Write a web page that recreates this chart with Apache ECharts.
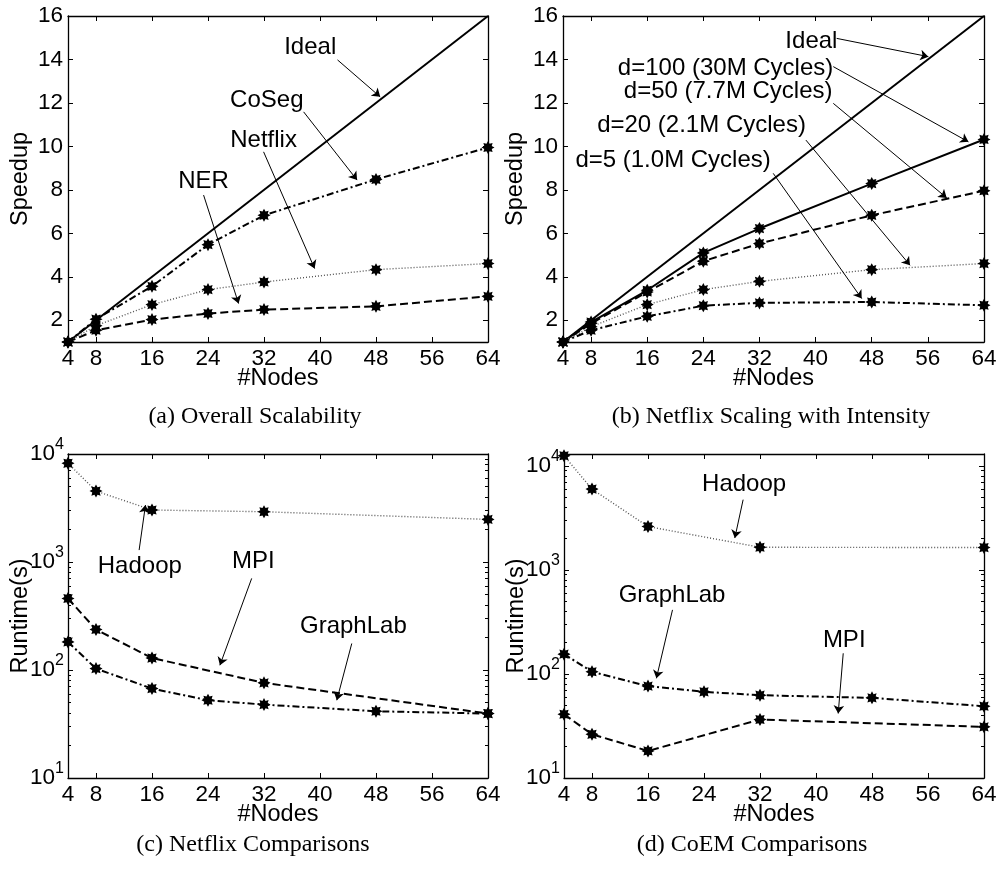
<!DOCTYPE html>
<html><head><meta charset="utf-8">
<script src="https://cdn.jsdelivr.net/npm/echarts@6/dist/echarts.min.js"></script>
<style>html,body{margin:0;padding:0;background:#fff}#c{width:1000px;height:869px}</style>
</head><body><div id="c"></div>
<script>
// ---------- data ----------
const nodes = [4, 8, 16, 24, 32, 48, 64];
const nodesSparse = [4, 8, 16, 32, 64];
const idealX = [4, 64];
const idealY = [1, 16];
const xTicks = [4, 8, 16, 24, 32, 40, 48, 56, 64];
const speedupTicks = [1, 2, 4, 6, 8, 10, 12, 14, 16];
const logMinorTicks = [20,30,40,50,60,70,80,90,200,300,400,500,600,700,800,900,2000,3000,4000,5000,6000,7000,8000,9000];

// (a) Overall Scalability
const aCoSeg   = [1, 2.05, 3.56, 5.48, 6.83, 8.48, 9.95];
const aNetflix = [1, 1.75, 2.72, 3.41, 3.76, 4.33, 4.61];
const aNER     = [1, 1.54, 2.03, 2.31, 2.49, 2.64, 3.10];
// (b) Netflix Scaling with Intensity
const bD100 = [1, 1.92, 3.38, 5.10, 6.22, 8.29, 10.32];
const bD50  = [1, 1.85, 3.30, 4.72, 5.53, 6.83, 7.96];
const bD20  = [1, 1.70, 2.72, 3.41, 3.79, 4.33, 4.61];
const bD5   = [1, 1.54, 2.18, 2.67, 2.80, 2.84, 2.69];
// (c) Netflix Comparisons (runtime s)
const cHadoop   = [8200, 4540, 3030, 2920, 2480];      // nodesSparse
const cMPI      = [459, 237, 129, 76, 39.5];          // nodesSparse
const cGraphLab = [182, 103, 67.3, 52.5, 47.8, 41.5, 39.5]; // nodes
// (d) CoEM Comparisons (runtime s)
const dHadoop   = [12500, 5980, 2610, 1650, 1640];    // nodesSparse
const dGraphLab = [155, 105, 76.4, 67.3, 62.5, 58.9, 49]; // nodes
const dMPI      = [41, 26.3, 18.2, 36.5, 31];          // nodesSparse

// annotations: [text, x, y] and arrows [x1, y1, x2, y2] in data units
const aNotes  = [['Ideal', 38.6, 14.57], ['CoSeg', 32.4, 12.13], ['Netflix', 31.94, 10.29], ['NER', 23.37, 8.37]];
const aArrows = [[42.5, 13.98, 48.6, 12.28], [37.66, 11.59, 45.3, 8.45], [31.94, 9.75, 39.23, 4.38], [23.37, 7.76, 28.37, 2.77]];
const bNotes  = [['Ideal', 39.4, 14.82], ['d=100 (30M Cycles)', 27.17, 13.59], ['d=50 (7.7M Cycles)', 27.54, 12.52],
                 ['d=20 (2.1M Cycles)', 23.74, 10.98], ['d=5 (1.0M Cycles)', 19.69, 9.37]];
const bArrows = [[43.0, 14.97, 56.07, 14.13], [42.52, 13.67, 61.78, 10.21], [42.52, 11.98, 58.69, 7.63],
                 [38.62, 10.29, 53.46, 4.53], [33.96, 8.76, 46.57, 3.0]];
const cNotes  = [['Hadoop', 14.26, 904], ['MPI', 30.47, 1005], ['GraphLab', 44.77, 251]];
const cArrows = [[14.16, 1289, 15.07, 3365], [30.24, 705, 25.7, 110.6], [44.54, 176, 42.4, 52.5]];
const dNotes  = [['Hadoop', 29.73, 6607], ['GraphLab', 19.44, 575], ['MPI', 44.03, 212]];
const dArrows = [[29.59, 4732, 28.4, 2024], [19.5, 413, 17.2, 90.8], [43.89, 158, 43.17, 41.7]];

// ---------- styles ----------
const F = 'Liberation Sans';
const star = (() => {
  const pts = [];
  for (let k = 0; k < 16; k++) {
    const a = k * Math.PI / 8, r = k % 2 === 0 ? 10 : 6.2;
    pts.push((10 + r * Math.sin(a)).toFixed(2) + ',' + (10 - r * Math.cos(a)).toFixed(2));
  }
  return 'path://M' + pts.join('L') + 'Z';
})();
const SOLID = {type: 'solid', width: 2, color: '#000'};
const DASH = {type: [8, 4], width: 2, color: '#000'};
const DASHDOT = {type: [7, 3, 2, 3], width: 2, color: '#000'};
const DOT = {type: [1, 2], width: 1.4, color: '#555'};

const grids = [
  {left: 68, top: 16, width: 420, height: 326},
  {left: 563, top: 16, width: 421, height: 326},
  {left: 68, top: 454, width: 420, height: 324},
  {left: 564, top: 454, width: 420, height: 324}
].map(g => Object.assign({outerBoundsMode: 'none', containLabel: false}, g));

const axisLine = {show: true, lineStyle: {color: '#000', width: 1.3}};
const tickStyle = {color: '#000', width: 1};
const tickTxt = {fontSize: 22.5, fontFamily: F, color: '#000'};
const nameTxt = {fontSize: 23.5, fontFamily: F, color: '#000'};
const noteTxt = {fontSize: 24, fontFamily: F, color: '#000', textBorderWidth: 0, textShadowBlur: 0, opacity: 1};

const xAxis = [], yAxis = [];
for (let g = 0; g < 4; g++) {
  xAxis.push({type: 'value', gridIndex: g, min: 4, max: 64, position: 'bottom',
    axisLine, splitLine: {show: false},
    axisTick: {inside: true, length: 5, customValues: xTicks, lineStyle: tickStyle},
    axisLabel: Object.assign({customValues: xTicks, margin: 5}, tickTxt),
    name: '#Nodes', nameLocation: 'middle', nameGap: 25, nameMoveOverlap: false,
    nameTextStyle: Object.assign({verticalAlign: 'top'}, nameTxt)});
  xAxis.push({type: 'value', gridIndex: g, min: 4, max: 64, position: 'top',
    axisLine, splitLine: {show: false},
    axisTick: {inside: true, length: 5, customValues: xTicks, lineStyle: tickStyle},
    axisLabel: {show: false}});
}
const yIdx = [];
for (let g = 0; g < 2; g++) {
  yIdx.push(yAxis.length);
  yAxis.push({type: 'value', gridIndex: g, min: 1, max: 16, position: 'left',
    axisLine, splitLine: {show: false},
    axisTick: {inside: true, length: 5, customValues: speedupTicks, lineStyle: tickStyle},
    axisLabel: Object.assign({customValues: speedupTicks, margin: 5}, tickTxt),
    name: 'Speedup', nameLocation: 'middle', nameGap: 35, nameRotate: 90, nameMoveOverlap: false,
    nameTextStyle: nameTxt});
  yAxis.push({type: 'value', gridIndex: g, min: 1, max: 16, position: 'right',
    axisLine, splitLine: {show: false},
    axisTick: {inside: true, length: 5, customValues: speedupTicks, lineStyle: tickStyle},
    axisLabel: {show: false}});
}
const logMax = [10000, 13000];
for (let g = 2; g < 4; g++) {
  yIdx.push(yAxis.length);
  const base = {type: 'log', logBase: 10, gridIndex: g, min: 10, max: logMax[g - 2], splitLine: {show: false}};
  yAxis.push(Object.assign({}, base, {position: 'left', axisLine,
    axisTick: {inside: true, length: 5, lineStyle: tickStyle},
    axisLabel: {margin: 4, fontFamily: F, color: '#000',
      formatter: v => {
        const e = Math.log10(v);
        if (Math.abs(e - Math.round(e)) > 1e-6) return '';
        return '{b|10}{s|' + Math.round(e) + '}';
      },
      rich: {b: {fontSize: 22.5, fontFamily: F, color: '#000', verticalAlign: 'bottom', lineHeight: 22},
             s: {fontSize: 16, fontFamily: F, color: '#000', verticalAlign: 'bottom', lineHeight: 16, padding: [0, 0, 12, 0]}}},
    name: 'Runtime(s)', nameLocation: 'middle', nameGap: 35, nameRotate: 90, nameMoveOverlap: false,
    nameTextStyle: nameTxt}));
  yAxis.push(Object.assign({}, base, {position: 'right', axisLine,
    axisTick: {inside: true, length: 5, lineStyle: tickStyle}, axisLabel: {show: false}}));
  yAxis.push(Object.assign({}, base, {position: 'left', axisLine: {show: false},
    axisTick: {inside: true, length: 3, customValues: logMinorTicks, lineStyle: tickStyle},
    axisLabel: {show: false, customValues: logMinorTicks}}));
  yAxis.push(Object.assign({}, base, {position: 'right', axisLine: {show: false},
    axisTick: {inside: true, length: 3, customValues: logMinorTicks, lineStyle: tickStyle},
    axisLabel: {show: false, customValues: logMinorTicks}}));
}

const series = [];
function line(g, xs, ys, style, sym) {
  series.push({type: 'line', xAxisIndex: 2 * g, yAxisIndex: yIdx[g],
    data: xs.map((x, i) => [x, ys[i]]),
    symbol: sym === false ? 'none' : star, symbolSize: 13, showAllSymbol: true,
    lineStyle: style, itemStyle: {color: '#000'}, clip: false, silent: true, animation: false});
}
function notes(g, list, arrows) {
  series.push({type: 'scatter', xAxisIndex: 2 * g, yAxisIndex: yIdx[g],
    data: list.map(n => [n[1], n[2], n[0]]), symbolSize: 1, itemStyle: {color: 'rgba(0,0,0,0)', opacity: 1},
    label: Object.assign({show: true, position: 'inside', formatter: p => p.data[2]}, noteTxt),
    silent: true, animation: false, z: 5});
  series.push({type: 'lines', coordinateSystem: 'cartesian2d', xAxisIndex: 2 * g, yAxisIndex: yIdx[g],
    data: arrows.map(a => ({coords: [[a[0], a[1]], [a[2], a[3]]]})),
    symbol: ['none', 'arrow'], symbolSize: [0, 8],
    lineStyle: {color: '#000', width: 1, opacity: 1, curveness: 0}, silent: true, animation: false, z: 5});
}
// (a)
line(0, idealX, idealY, SOLID, false);
line(0, nodes, aCoSeg, DASHDOT);
line(0, nodes, aNetflix, DOT);
line(0, nodes, aNER, DASH);
notes(0, aNotes, aArrows);
// (b)
line(1, idealX, idealY, SOLID, false);
line(1, nodes, bD100, SOLID);
line(1, nodes, bD50, DASH);
line(1, nodes, bD20, DOT);
line(1, nodes, bD5, DASHDOT);
notes(1, bNotes, bArrows);
// (c)
line(2, nodesSparse, cHadoop, DOT);
line(2, nodesSparse, cMPI, DASH);
line(2, nodes, cGraphLab, DASHDOT);
notes(2, cNotes, cArrows);
// (d)
line(3, nodesSparse, dHadoop, DOT);
line(3, nodes, dGraphLab, DASHDOT);
line(3, nodesSparse, dMPI, DASH);
notes(3, dNotes, dArrows);

const captionFont = '24px "Liberation Serif"';
const captions = [['(a) Overall Scalability', 255, 417], ['(b) Netflix Scaling with Intensity', 771, 417],
                  ['(c) Netflix Comparisons', 253, 845], ['(d) CoEM Comparisons', 752, 845]];

const chart = echarts.init(document.getElementById('c'), null, {renderer: 'canvas'});
chart.setOption({
  animation: false,
  backgroundColor: '#fff',
  grid: grids, xAxis, yAxis, series,
  graphic: captions.map(c => ({type: 'text', x: c[1], y: c[2], silent: true,
    style: {text: c[0], textAlign: 'center', textVerticalAlign: 'middle', font: captionFont, fill: '#000'}}))
});
</script></body></html>
